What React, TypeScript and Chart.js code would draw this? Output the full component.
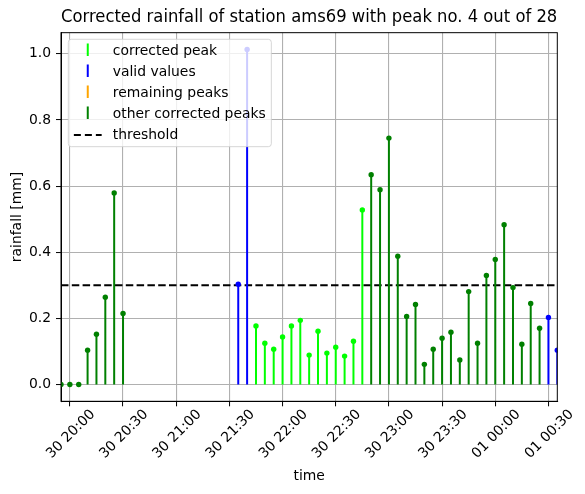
import React, { useEffect, useRef } from "react";
import { Chart, registerables } from "chart.js";

Chart.register(...registerables);

const titleText = "Corrected rainfall of station ams69 with peak no. 4 out of 28";
const xTitle = "time";
const yTitle = "rainfall [mm]";

const times = [
  "30 19:55", "30 20:00", "30 20:05", "30 20:10", "30 20:15", "30 20:20", "30 20:25", "30 20:30",
  "30 20:35", "30 20:40", "30 20:45", "30 20:50", "30 20:55", "30 21:00", "30 21:05", "30 21:10",
  "30 21:15", "30 21:20", "30 21:25", "30 21:30", "30 21:35", "30 21:40", "30 21:45", "30 21:50",
  "30 21:55", "30 22:00", "30 22:05", "30 22:10", "30 22:15", "30 22:20", "30 22:25", "30 22:30",
  "30 22:35", "30 22:40", "30 22:45", "30 22:50", "30 22:55", "30 23:00", "30 23:05", "30 23:10",
  "30 23:15", "30 23:20", "30 23:25", "30 23:30", "30 23:35", "30 23:40", "30 23:45", "30 23:50",
  "30 23:55", "01 00:00", "01 00:05", "01 00:10", "01 00:15", "01 00:20", "01 00:25", "01 00:30",
  "01 00:35",
];

const rainfall: (number | null)[] = [
  0, 0, 0, 0.104, 0.152, 0.264, 0.579, 0.215,
  null, null, null, null, null, null, null, null, null, null, null, null,
  0.303, 1.013, 0.177, 0.125, 0.107, 0.144, 0.177, 0.194, 0.089, 0.161, 0.095, 0.113, 0.086, 0.131, 0.528,
  0.634, 0.589, 0.745, 0.388, 0.206, 0.242, 0.061, 0.107, 0.140, 0.158, 0.074, 0.281, 0.125, 0.330, 0.378,
  0.483, 0.293, 0.122, 0.245, 0.170,
  0.203, 0.104,
];

// C = corrected peak, V = valid values, R = remaining peaks, O = other corrected peaks, - = missing
const pointClass = "OOOOOOOO------------VVCCCCCCCCCCCCCOOOOOOOOOOOOOOOOOOOOVV".split("");

const seriesCodes = ["C", "V", "R", "O"];
const seriesLabels = ["corrected peak", "valid values", "remaining peaks", "other corrected peaks"];
const seriesColors = ["#00ff00", "#0000ff", "#ffa500", "#008000"];

const thresholdValue = 0.3;
const thresholdLabel = "threshold";

const xTickLabels = [
  "30 20:00", "30 20:30", "30 21:00", "30 21:30", "30 22:00",
  "30 22:30", "30 23:00", "30 23:30", "01 00:00", "01 00:30",
];
const yTickValues = [0.0, 0.2, 0.4, 0.6, 0.8, 1.0];

const FONT = "DejaVu Sans";

function toMinutes(s: string): number {
  const [d, hm] = s.split(" ");
  const [h, m] = hm.split(":").map(Number);
  return (d === "30" ? 0 : 1440) + h * 60 + m;
}

function stemData(code: string) {
  const pts: { x: number; y: number | null }[] = [];
  times.forEach((t, i) => {
    const v = rainfall[i];
    if (pointClass[i] !== code || v === null) return;
    const x = toMinutes(t);
    pts.push({ x, y: 0 }, { x, y: v }, { x, y: null });
  });
  return pts;
}

const frameAndLegend = {
  id: "frameAndLegend",
  afterDraw(chart: any) {
    const { ctx, chartArea } = chart;
    const { left, right, top, bottom } = chartArea;
    ctx.save();
    ctx.strokeStyle = "#000";
    ctx.lineWidth = 1;
    ctx.strokeRect(left, top, right - left, bottom - top);

    // legend
    const fs = 13.9;
    ctx.font = `${fs}px "${FONT}"`;
    const labels = [...seriesLabels, thresholdLabel];
    const maxW = Math.max(...labels.map((l) => ctx.measureText(l).width));
    const pad = 0.4 * fs;
    const handleLen = 2 * fs;
    const handleGap = 0.8 * fs;
    const bx = left + 7.3;
    const by = top + 6.6;
    const bw = pad + handleLen + handleGap + maxW + pad;
    const rowH = 21;
    const bh = 107.4;
    const r = 3;
    ctx.beginPath();
    ctx.moveTo(bx + r, by);
    ctx.lineTo(bx + bw - r, by);
    ctx.quadraticCurveTo(bx + bw, by, bx + bw, by + r);
    ctx.lineTo(bx + bw, by + bh - r);
    ctx.quadraticCurveTo(bx + bw, by + bh, bx + bw - r, by + bh);
    ctx.lineTo(bx + r, by + bh);
    ctx.quadraticCurveTo(bx, by + bh, bx, by + bh - r);
    ctx.lineTo(bx, by + r);
    ctx.quadraticCurveTo(bx, by, bx + r, by);
    ctx.closePath();
    ctx.fillStyle = "rgba(255,255,255,0.8)";
    ctx.fill();
    ctx.strokeStyle = "rgba(204,204,204,0.8)";
    ctx.lineWidth = 1;
    ctx.stroke();

    const hx = bx + pad;
    const tx = hx + handleLen + handleGap;
    labels.forEach((lab, i) => {
      const cy = by + 11.7 + rowH * i;
      ctx.setLineDash([]);
      if (i < seriesColors.length) {
        ctx.strokeStyle = seriesColors[i];
        ctx.lineWidth = 2;
        ctx.beginPath();
        ctx.moveTo(hx + handleLen / 2, cy - 7.5);
        ctx.lineTo(hx + handleLen / 2, cy + 5);
        ctx.stroke();
      } else {
        ctx.strokeStyle = "#000";
        ctx.lineWidth = 2;
        ctx.setLineDash([7, 4]);
        ctx.beginPath();
        ctx.moveTo(hx, cy);
        ctx.lineTo(hx + handleLen, cy);
        ctx.stroke();
        ctx.setLineDash([]);
      }
      ctx.fillStyle = "#000";
      ctx.textAlign = "left";
      ctx.textBaseline = "middle";
      ctx.fillText(lab, tx, cy);
    });
    ctx.restore();
  },
};

export default function App() {
  const ref = useRef<HTMLCanvasElement | null>(null);

  useEffect(() => {
    if (!ref.current) return;
    Chart.defaults.font.family = FONT;
    Chart.defaults.color = "#000";

    const xMin = toMinutes(times[0]);
    const xMax = toMinutes(times[times.length - 1]);
    const vals = rainfall.filter((v) => v !== null) as number[];
    const vMax = Math.max(...vals);
    const vMin = Math.min(...vals);
    const span = vMax - vMin;

    const datasets: any[] = seriesCodes.map((code, k) => ({
      type: "line",
      label: seriesLabels[k],
      data: stemData(code),
      borderColor: seriesColors[k],
      backgroundColor: seriesColors[k],
      borderWidth: 2,
      pointRadius: (c: any) => (c.dataIndex % 3 === 1 ? 2.7 : 0),
      pointBorderWidth: 0,
      pointHoverRadius: 0,
      spanGaps: false,
      fill: false,
      tension: 0,
    }));
    datasets.push({
      type: "line",
      label: thresholdLabel,
      data: [
        { x: xMin, y: thresholdValue },
        { x: xMax, y: thresholdValue },
      ],
      borderColor: "#000",
      borderWidth: 2,
      borderDash: [7.5, 3.3],
      pointRadius: 0,
      fill: false,
    });

    const chart = new Chart(ref.current, {
      type: "line",
      data: { datasets },
      options: {
        animation: false,
        responsive: false,
        events: [],
        layout: { padding: { left: 0, right: 27.7, top: 0, bottom: 0 } },
        plugins: {
          legend: { display: false },
          tooltip: { enabled: false },
          title: {
            display: true,
            text: titleText,
            color: "#000",
            fullSize: false,
            font: { family: FONT, size: 16.9, weight: "normal" },
            padding: { top: 7, bottom: 5.4 },
          },
        },
        scales: {
          x: {
            type: "linear",
            min: xMin,
            max: xMax,
            afterBuildTicks: (s: any) => {
              s.ticks = xTickLabels.map((l) => ({ value: toMinutes(l) }));
            },
            afterFit: (s: any) => {
              s.height = 92.7;
            },
            ticks: {
              autoSkip: false,
              minRotation: 45,
              maxRotation: 45,
              labelOffset: 23,
              padding: 0,
              color: "#000",
              font: { family: FONT, size: 13.9 },
              callback: (v: any) => {
                const i = xTickLabels.findIndex((l) => toMinutes(l) === Number(v));
                return i >= 0 ? xTickLabels[i] : "";
              },
            },
            grid: { color: "#b0b0b0", lineWidth: 1.1, tickColor: "#000", tickLength: 5, tickWidth: 1 },
            border: { color: "#000", width: 1 },
            title: {
              display: true,
              text: xTitle,
              color: "#000",
              font: { family: FONT, size: 13.9 },
              padding: { top: 0, bottom: 9 },
            },
          },
          y: {
            type: "linear",
            min: vMin - 0.05 * span,
            max: vMax + 0.05 * span,
            afterBuildTicks: (s: any) => {
              s.ticks = yTickValues.map((v) => ({ value: v }));
            },
            afterFit: (s: any) => {
              s.width = 61;
            },
            ticks: {
              padding: 5,
              color: "#000",
              font: { family: FONT, size: 13.9 },
              callback: (v: any) => Number(v).toFixed(1),
            },
            grid: { color: "#b0b0b0", lineWidth: 1.1, tickColor: "#000", tickLength: 5, tickWidth: 1 },
            border: { color: "#000", width: 1 },
            title: {
              display: true,
              text: yTitle,
              color: "#000",
              font: { family: FONT, size: 13.9 },
              padding: { top: 8.7, bottom: 0 },
            },
          },
        },
      } as any,
      plugins: [frameAndLegend],
    });
    return () => chart.destroy();
  }, []);

  return (
    <div style={{ position: "absolute", left: 0, top: 0, width: 585, height: 494, background: "#fff" }}>
      <canvas ref={ref} width={585} height={494} style={{ width: 585, height: 494 }} />
    </div>
  );
}
